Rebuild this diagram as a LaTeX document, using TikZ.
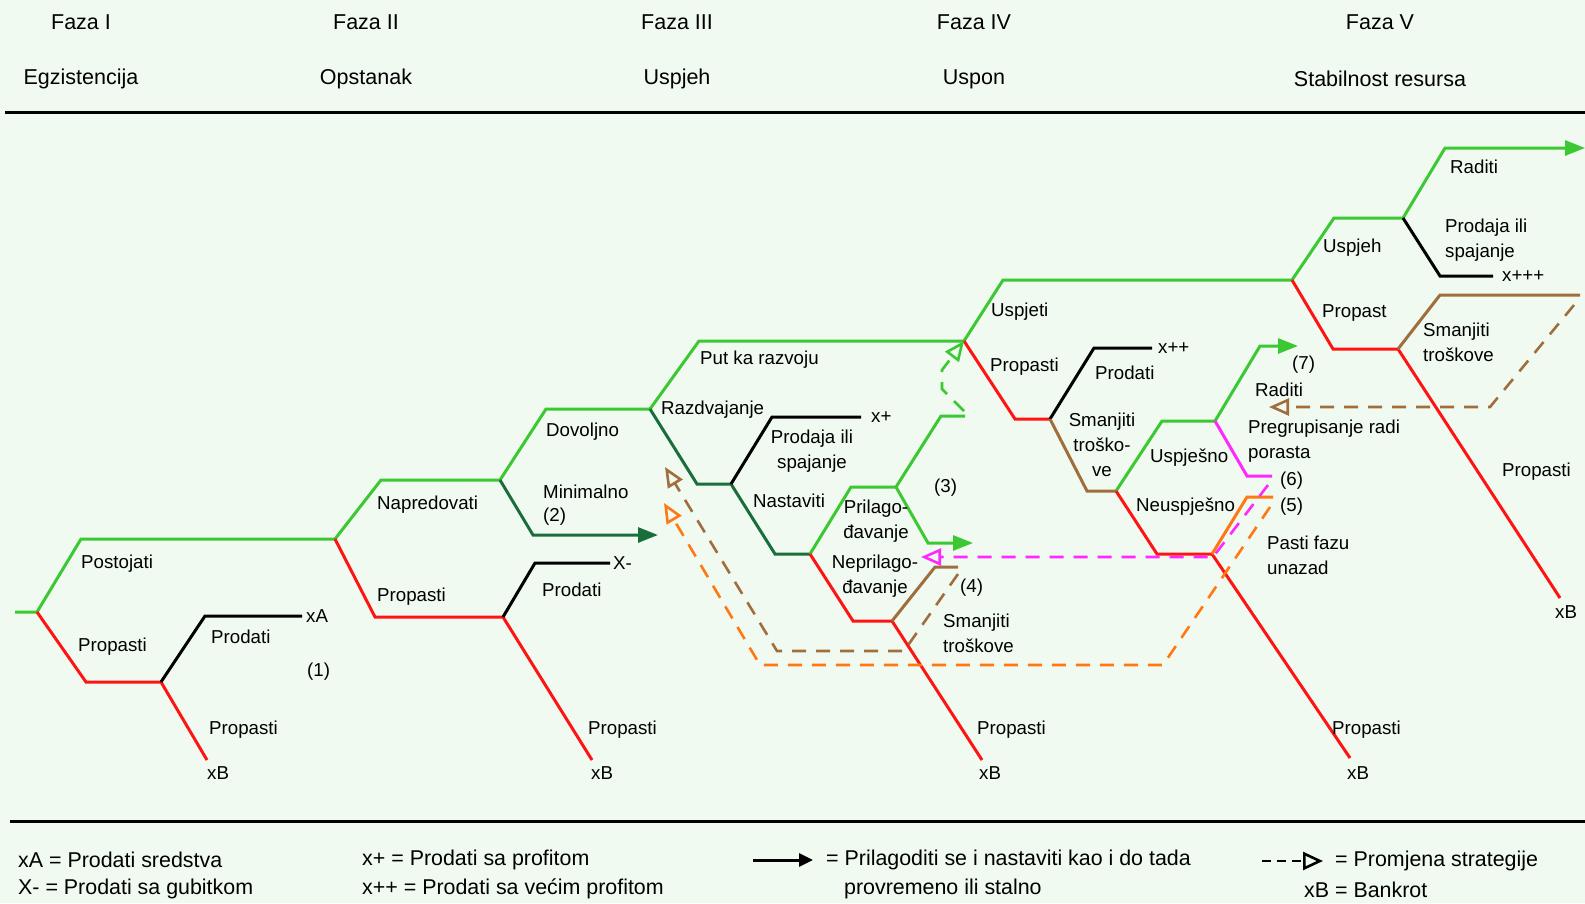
\documentclass[tikz,border=0pt]{standalone}
\usepackage{fontspec}
\setmainfont{Liberation Sans}
\usetikzlibrary{arrows.meta}
\definecolor{bg}{RGB}{240,250,240}
\definecolor{gr}{RGB}{60,200,50}
\definecolor{dg}{RGB}{25,110,60}
\definecolor{rd}{RGB}{255,20,20}
\definecolor{br}{RGB}{160,110,60}
\definecolor{og}{RGB}{255,120,20}
\definecolor{mg}{RGB}{255,40,255}
\begin{document}
\begin{tikzpicture}[x=1pt,y=-1pt,
  ln/.style={line width=3pt,line join=miter},
  dsh/.style={line width=2.6pt,dash pattern=on 14pt off 10pt},
  fill tip/.style={-{Triangle[length=20pt,width=15pt]}},
  open tip/.style={-{Triangle[open,length=20pt,width=17pt,line width=2.6pt]}},
  lbl/.style={anchor=west,inner sep=0pt,font=\fontsize{18.7}{23}\selectfont},
  clbl/.style={inner sep=0pt,align=center,font=\fontsize{18.7}{25}\selectfont},
  hdr/.style={inner sep=0pt,font=\fontsize{21.5}{26}\selectfont},
  leg/.style={anchor=west,inner sep=0pt,font=\fontsize{21.4}{26}\selectfont}]
\useasboundingbox (0,0) rectangle (1585,903);
\fill[bg] (0,0) rectangle (1585,903);

% phase header
\node[hdr] (h1a) at (81,22) {Faza I};
\node[hdr] (h1b) at (81,79) {Egzistencija};
\node[hdr] (h2a) at (366,22) {Faza II};
\node[hdr] (h2b) at (366,79) {Opstanak};
\node[hdr] (h3a) at (677,22) {Faza III};
\node[hdr] (h3b) at (677,79) {Uspjeh};
\node[hdr] (h4a) at (974,22) {Faza IV};
\node[hdr] (h4b) at (974,79) {Uspon};
\node[hdr] (h5a) at (1380,22) {Faza V};
\node[hdr] (h5b) at (1380,79) {Stabilnost resursa};
\coordinate (topL) at (5,112);
\coordinate (topR) at (1585,112);
\draw[line width=3pt] (topL) -- (topR);
\coordinate (botL) at (10,821);
\coordinate (botR) at (1585,821);
\draw[line width=3pt] (botL) -- (botR);

% branch points
\coordinate (s0) at (15,612);
\coordinate (a) at (37,612);
\coordinate (a1) at (81,539);
\coordinate (b) at (335,539);
\coordinate (a2) at (86,682);
\coordinate (c) at (161,682);
\coordinate (c1) at (205,616);
\coordinate (cA) at (302,616);
\coordinate (cB) at (207,760);

\coordinate (b1) at (381,480);
\coordinate (d) at (500,480);
\coordinate (b2) at (375,617);
\coordinate (e) at (503,617);
\coordinate (e1) at (535,563);
\coordinate (eX) at (610,563);
\coordinate (eB) at (592,760);
\coordinate (d1) at (546,409);
\coordinate (f) at (650,409);
\coordinate (d2) at (533,535);
\coordinate (dT) at (658,535);

\coordinate (f1) at (699,341);
\coordinate (g) at (964,341);
\coordinate (f2) at (697,484);
\coordinate (h) at (731,484);
\coordinate (h1) at (772,417);
\coordinate (hX) at (861,417);
\coordinate (h2) at (775,554);
\coordinate (i) at (810,554);
\coordinate (i1) at (851,487);
\coordinate (j) at (896,487);
\coordinate (j1) at (941,416);
\coordinate (j2) at (965,416);
\coordinate (j3) at (928,543);
\coordinate (jT) at (973,543);
\coordinate (i2) at (853,621);
\coordinate (k) at (892,621);
\coordinate (k1) at (935,567);
\coordinate (k2) at (958,567);
\coordinate (kB) at (982,760);

\coordinate (g1) at (1003,280);
\coordinate (m) at (1292,280);
\coordinate (g2) at (1015,419);
\coordinate (n) at (1050,419);
\coordinate (n1) at (1094,348);
\coordinate (nX) at (1152,348);
\coordinate (n2) at (1087,491);
\coordinate (o) at (1116,491);
\coordinate (o1) at (1162,421);
\coordinate (p) at (1215,421);
\coordinate (p1) at (1260,346);
\coordinate (pT) at (1298,346);
\coordinate (p2) at (1247,476);
\coordinate (p3) at (1272,476);
\coordinate (o2) at (1157,554);
\coordinate (q) at (1212,554);
\coordinate (q1) at (1247,497);
\coordinate (q2) at (1273,497);
\coordinate (qB) at (1350,758);

\coordinate (m1) at (1334,218);
\coordinate (r) at (1403,218);
\coordinate (r1) at (1445,148);
\coordinate (rT) at (1585,148);
\coordinate (r2) at (1440,276);
\coordinate (rX) at (1493,276);
\coordinate (m2) at (1333,349);
\coordinate (t) at (1398,349);
\coordinate (t1) at (1440,295);
\coordinate (t2) at (1580,295);
\coordinate (tB) at (1560,598);

% phase I
\draw[ln,gr] (s0) -- (a) -- (a1) -- (b);
\draw[ln,rd] (a) -- (a2) -- (c) -- (cB);
\draw[ln,black] (c) -- (c1) -- (cA);

% phase II
\draw[ln,gr] (b) -- (b1) -- (d) -- (d1) -- (f);
\draw[ln,rd] (b) -- (b2) -- (e) -- (eB);
\draw[ln,black] (e) -- (e1) -- (eX);
\draw[ln,dg,fill tip] (d) -- (d2) -- (dT);

% phase III
\draw[ln,gr] (f) -- (f1) -- (g);
\draw[ln,dg] (f) -- (f2) -- (h) -- (h2) -- (i);
\draw[ln,black] (h) -- (h1) -- (hX);
\draw[ln,gr] (i) -- (i1) -- (j) -- (j1) -- (j2);
\draw[ln,gr,fill tip] (j) -- (j3) -- (jT);
\draw[ln,rd] (i) -- (i2) -- (k) -- (kB);
\draw[ln,br] (k) -- (k1) -- (k2);

% phase IV
\draw[ln,gr] (g) -- (g1) -- (m);
\draw[ln,rd] (g) -- (g2) -- (n);
\draw[ln,black] (n) -- (n1) -- (nX);
\draw[ln,br] (n) -- (n2) -- (o);
\draw[ln,gr] (o) -- (o1) -- (p);
\draw[ln,gr,fill tip] (p) -- (p1) -- (pT);
\draw[ln,mg] (p) -- (p2) -- (p3);
\draw[ln,rd] (o) -- (o2) -- (q) -- (qB);
\draw[ln,og] (q) -- (q1) -- (q2);

% phase V
\draw[ln,gr] (m) -- (m1) -- (r);
\draw[ln,gr,fill tip] (r) -- (r1) -- (rT);
\draw[ln,black] (r) -- (r2) -- (rX);
\draw[ln,rd] (m) -- (m2) -- (t) -- (tB);
\draw[ln,br] (t) -- (t1) -- (t2);

% strategy changes (dashed)
\coordinate (gd0) at (964,411);
\coordinate (gd1) at (942,389);
\coordinate (gd2) at (942,370);
\draw[dsh,gr,open tip] (gd0) -- (gd1) -- (gd2) -- (g);

\coordinate (bd0) at (958,574);
\coordinate (bd1) at (904,651);
\coordinate (bd2) at (777,651);
\coordinate (bdT) at (665,467);
\draw[dsh,br,open tip] (bd0) -- (bd1) -- (bd2) -- (bdT);

\coordinate (od0) at (1270,507);
\coordinate (od1) at (1163,665);
\coordinate (od2) at (760,665);
\coordinate (odT) at (664,503);
\draw[dsh,og,open tip] (od0) -- (od1) -- (od2) -- (odT);

\coordinate (md0) at (1268,485);
\coordinate (md1) at (1213,557);
\coordinate (mdT) at (921,557);
\draw[dsh,mg,open tip] (md0) -- (md1) -- (mdT);

\coordinate (vd0) at (1574,305);
\coordinate (vd1) at (1490,407);
\coordinate (vdT) at (1269,407);
\draw[dsh,br,open tip] (vd0) -- (vd1) -- (vdT);

% labels, phase I
\node[lbl] (lPost) at (81,564) {Postojati};
\node[lbl] (lProp1) at (78,647) {Propasti};
\node[lbl] (lProd1) at (211,637) {Prodati};
\node[lbl] (lxA) at (306,616) {xA};
\node[lbl] (l1) at (307,672) {(1)};
\node[lbl] (lProp1b) at (209,730) {Propasti};
\node[lbl] (lxB1) at (207,773) {xB};

% labels, phase II
\node[lbl] (lNapr) at (377,505) {Napredovati};
\node[lbl] (lProp2) at (377,597) {Propasti};
\node[lbl] (lProd2) at (542,590) {Prodati};
\node[lbl] (lXm) at (613,563) {X-};
\node[lbl] (lProp2b) at (588,730) {Propasti};
\node[lbl] (lxB2) at (591,773) {xB};
\node[lbl] (lDov) at (546,432) {Dovoljno};
\node[lbl] (lMin) at (543,492) {Minimalno};
\node[lbl] (l2) at (543,517) {(2)};

% labels, phase III
\node[lbl] (lPut) at (700,360) {Put ka razvoju};
\node[lbl] (lRazd) at (661,410) {Razdvajanje};
\node[lbl] (lxp) at (871,417) {x+};
\node[clbl] (lProdaja3) at (812,451) {Prodaja ili\\spajanje};
\node[lbl] (lNast) at (753,501) {Nastaviti};
\node[lbl] (l3) at (934,488) {(3)};
\node[clbl] (lPril) at (876,521) {Prilago-\\đavanje};
\node[clbl] (lNepr) at (875,576) {Neprilago-\\đavanje};
\node[lbl] (l4) at (960,588) {(4)};
\node[clbl,align=left,anchor=west] (lSman3) at (943,633) {Smanjiti\\troškove};
\node[lbl] (lProp3) at (977,730) {Propasti};
\node[lbl] (lxB3) at (979,773) {xB};

% labels, phase IV
\node[lbl] (lUspj) at (991,312) {Uspjeti};
\node[lbl] (lProp4) at (990,367) {Propasti};
\node[lbl] (lProd4) at (1095,373) {Prodati};
\node[lbl] (lxpp) at (1158,348) {x++};
\node[clbl] (lSman4) at (1102,445) {Smanjiti\\troško-\\ve};
\node[lbl] (lUsp) at (1150,458) {Uspješno};
\node[lbl] (lNeus) at (1136,507) {Neuspješno};
\node[lbl] (l7) at (1292,365) {(7)};
\node[lbl] (lRad4) at (1255,390) {Raditi};
\node[clbl,align=left,anchor=west] (lPreg) at (1248,441) {Pregrupisanje radi\\porasta};
\node[lbl] (l6) at (1280,481) {(6)};
\node[lbl] (l5) at (1280,507) {(5)};
\node[clbl,align=left,anchor=west] (lPasti) at (1267,555) {Pasti fazu\\unazad};
\node[lbl] (lProp4b) at (1332,730) {Propasti};
\node[lbl] (lxB4) at (1347,773) {xB};

% labels, phase V
\node[lbl] (lUspjeh) at (1323,248) {Uspjeh};
\node[lbl] (lPropast) at (1322,313) {Propast};
\node[lbl] (lRad5) at (1450,167) {Raditi};
\node[clbl,align=left,anchor=west] (lProdaja5) at (1445,240) {Prodaja ili\\spajanje};
\node[lbl] (lxppp) at (1502,276) {x+++};
\node[clbl,align=left,anchor=west] (lSman5) at (1423,342) {Smanjiti\\troškove};
\node[lbl] (lProp5) at (1502,472) {Propasti};
\node[lbl] (lxB5) at (1555,612) {xB};

% legend
\node[leg] (kxA) at (18,860) {xA = Prodati sredstva};
\node[leg] (kxm) at (18,889) {X- = Prodati sa gubitkom};
\node[leg] (kxp) at (362,860) {x+ = Prodati sa profitom};
\node[leg] (kxpp) at (362,889) {x++ = Prodati sa većim profitom};
\coordinate (karr0) at (753,860);
\coordinate (karr1) at (813,860);
\draw[line width=3pt,-{Triangle[length=14pt,width=13pt]}] (karr0) -- (karr1);
\node[leg] (kadapt) at (826,860) {= Prilagoditi se i nastaviti kao i do tada};
\node[leg] (kadapt2) at (844,889) {provremeno ili stalno};
\coordinate (kdsh0) at (1262,861);
\coordinate (kdsh1) at (1323,861);
\draw[line width=2.6pt,dash pattern=on 9pt off 6pt,-{Triangle[open,length=20pt,width=18pt,line width=2.6pt]}] (kdsh0) -- (kdsh1);
\node[leg] (kstrat) at (1335,861) {= Promjena strategije};
\node[leg] (kbank) at (1304,890) {xB = Bankrot};
\end{tikzpicture}
\end{document}
